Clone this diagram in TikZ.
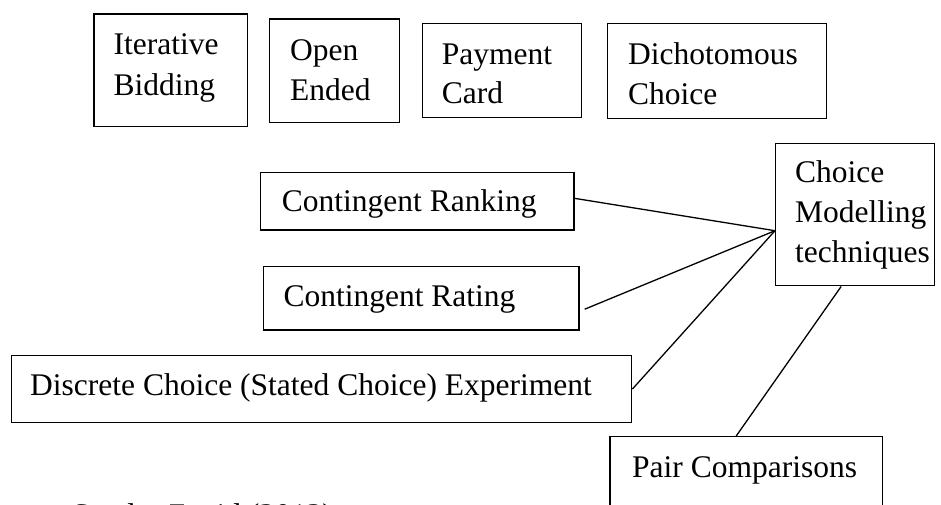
\documentclass[tikz,border=0pt]{standalone}
\usepackage{fontspec}
\setmainfont{Liberation Serif}
\tikzset{
  box/.style={draw, line width=1.4pt, inner sep=0pt, anchor=north west},
  lbl/.style={inner sep=0pt, anchor=base west, font=\fontsize{31.5}{40}\selectfont},
  link/.style={line width=1.3pt},
}
\begin{document}
\begin{tikzpicture}[x=1pt,y=-1pt]
\useasboundingbox (0,0) rectangle (941,504);

% elicitation formats (top row)
\node[box, minimum width=153.4pt, minimum height=112.7pt] (ib) at (93.3,13.3) {};
\node[lbl] (ib1) at (113.4,54.5) {Iterative};
\node[lbl] (ib2) at (113.4,95) {Bidding};

\node[box, minimum width=130pt, minimum height=103.4pt] (oe) at (269,18.3) {};
\node[lbl] (oe1) at (290,60) {Open};
\node[lbl] (oe2) at (290,100) {Ended};

\node[box, minimum width=159.5pt, minimum height=94pt] (pc) at (421.5,22.7) {};
\node[lbl] (pc1) at (441.7,64.3) {Payment};
\node[lbl] (pc2) at (441.7,103.6) {Card};

\node[box, minimum width=219pt, minimum height=95.3pt] (dc) at (607,22.7) {};
\node[lbl] (dc1) at (628,64) {Dichotomous};
\node[lbl] (dc2) at (628,104) {Choice};

% choice modelling hub
\node[box, minimum width=159pt, minimum height=142pt] (cm) at (775,143) {};
\node[lbl] (cm1) at (795,182) {Choice};
\node[lbl] (cm2) at (795,222) {Modelling};
\node[lbl] (cm3) at (795,262) {techniques};

% choice modelling techniques
\node[box, minimum width=313.3pt, minimum height=57.3pt] (cr) at (260,172) {};
\node[lbl] (crl) at (281.7,211.7) {Contingent Ranking};

\node[box, minimum width=315.6pt, minimum height=63.6pt] (crt) at (262.7,265.7) {};
\node[lbl] (crtl) at (283.3,306) {Contingent Rating};

\node[box, minimum width=620pt, minimum height=66.7pt] (dce) at (11,355) {};
\node[lbl] (dcel) at (30,395) {Discrete Choice (Stated Choice) Experiment};

\node[box, minimum width=272.4pt, minimum height=90pt] (pcmp) at (609.3,436) {};
\node[lbl] (pcmpl) at (632,477) {Pair Comparisons};

% source line, running off the lower edge
\node[lbl] (src) at (72,525) {Sandra Zanid (2013)};

% connectors
\coordinate (hub) at ([yshift=-16pt]cm.west);
\draw[link] ([yshift=3pt]cr.east) -- (hub);
\draw[link] ([shift={(5pt,-11pt)}]crt.east) -- (hub);
\draw[link] (dce.east) -- (hub);
\draw[link] ([xshift=-14pt]cm.south) -- ([xshift=-10pt]pcmp.north);
\end{tikzpicture}
\end{document}
